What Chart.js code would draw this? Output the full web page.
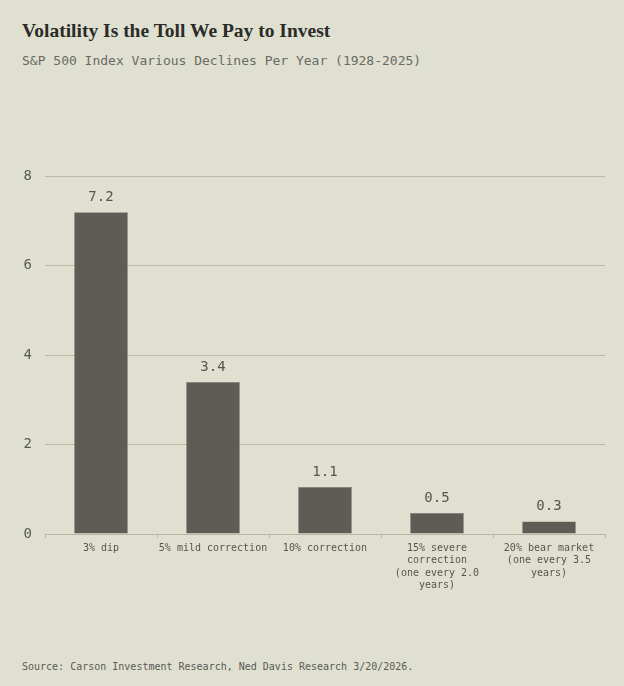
<!DOCTYPE html>
<html>
<head>
<meta charset="utf-8">
<script src="https://cdn.jsdelivr.net/npm/chart.js@4.4.1/dist/chart.umd.min.js"></script>
<style>
    html, body {
        margin: 0;
        padding: 0;
        background: #e0e0d1;
    }
    #page {
        position: relative;
        width: 624px;
        height: 686px;
        overflow: hidden;
        background: #e0e0d1;
    }
    #title {
        position: absolute;
        left: 22px;
        top: 20px;
        font-family: "Liberation Serif", serif;
        font-weight: bold;
        font-size: 19.5px;
        color: #2b2b28;
        white-space: nowrap;
    }
    #subtitle {
        position: absolute;
        left: 22px;
        top: 53px;
        font-family: "DejaVu Sans Mono", monospace;
        font-size: 13px;
        color: #6a6a64;
        white-space: nowrap;
    }
    #source {
        position: absolute;
        left: 22px;
        top: 661px;
        font-family: "DejaVu Sans Mono", monospace;
        font-size: 10px;
        color: #5a5a55;
        white-space: nowrap;
    }
    #chart-box {
        position: absolute;
        left: 0;
        top: 155px;
        width: 624px;
        height: 445px;
    }
</style>
</head>
<body>
<div id="page">
    <div id="title">Volatility Is the Toll We Pay to Invest</div>
    <div id="subtitle">S&amp;P 500 Index Various Declines Per Year (1928-2025)</div>
    <div id="chart-box"><canvas id="declines-chart"></canvas></div>
    <div id="source">Source: Carson Investment Research, Ned Davis Research 3/20/2026.</div>
</div>
<script>
// Categories (multi-line tick labels)
const categories = [
    ['3% dip'],
    ['5% mild correction'],
    ['10% correction'],
    ['15% severe', 'correction', '(one every 2.0', 'years)'],
    ['20% bear market', '(one every 3.5', 'years)']
];

// Average number of declines per year
const declinesPerYear = [7.2, 3.4, 1.05, 0.47, 0.28];

// Y axis ticks
const yTicks = [0, 2, 4, 6, 8];

const monoFont = '"DejaVu Sans Mono", monospace';

// Simple plugin to draw the value above each bar
const valueLabels = {
    id: 'valueLabels',
    afterDatasetsDraw(chart) {
        const ctx = chart.ctx;
        const meta = chart.getDatasetMeta(0);
        ctx.save();
        ctx.font = '14px ' + monoFont;
        ctx.fillStyle = '#55554f';
        ctx.textAlign = 'center';
        ctx.textBaseline = 'bottom';
        meta.data.forEach((bar, i) => {
            ctx.fillText(declinesPerYear[i].toFixed(1), bar.x, bar.y - 8);
        });
        ctx.restore();
    }
};

const canvas = document.getElementById('declines-chart');

new Chart(canvas, {
    type: 'bar',
    data: {
        labels: categories,
        datasets: [{
            data: declinesPerYear,
            backgroundColor: '#5d5d56',
            borderColor: '#7a7a72',
            borderWidth: 0.6,
            barPercentage: 0.48,
            categoryPercentage: 1.0
        }]
    },
    options: {
        responsive: true,
        maintainAspectRatio: false,
        animation: false,
        layout: {
            padding: { left: 0, right: 19, top: 11, bottom: 0 }
        },
        plugins: {
            legend: { display: false },
            tooltip: { enabled: false }
        },
        scales: {
            x: {
                grid: {
                    offset: true,
                    drawOnChartArea: false,
                    drawTicks: true,
                    tickLength: 4,
                    color: '#b9b6a6'
                },
                border: { color: '#b9b6a6', width: 1 },
                ticks: {
                    font: { family: monoFont, size: 10, lineHeight: 1.25 },
                    color: '#55554f',
                    padding: 4,
                    maxRotation: 0,
                    autoSkip: false
                },
                afterFit(scale) {
                    scale.height = 66;
                }
            },
            y: {
                min: 0,
                max: 8,
                afterBuildTicks(scale) {
                    scale.ticks = yTicks.map(v => ({ value: v }));
                },
                grid: {
                    drawTicks: false,
                    color: '#bdbaaa'
                },
                border: { display: false },
                ticks: {
                    font: { family: monoFont, size: 14 },
                    color: '#5a5a55',
                    padding: 13
                },
                afterFit(scale) {
                    scale.width = 45;
                }
            }
        }
    },
    plugins: [valueLabels]
});
</script>
</body>
</html>
